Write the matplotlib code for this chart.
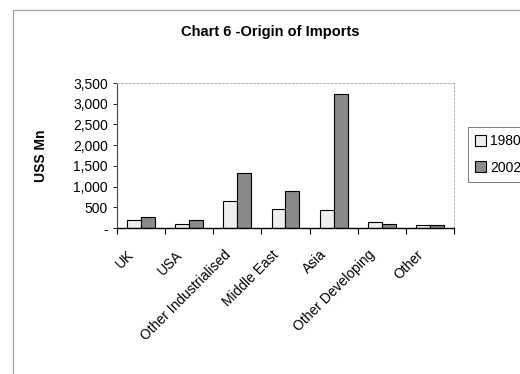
import matplotlib.pyplot as plt
import matplotlib.transforms as mtransforms
import numpy as np
from matplotlib.patches import Rectangle
from matplotlib.ticker import FuncFormatter

plt.rcParams['font.family'] = ['Liberation Sans', 'DejaVu Sans']

regions = ["UK", "USA", "Other Industrialised", "Middle East", "Asia",
           "Other Developing", "Other"]
imports_1980 = [190, 95, 650, 470, 440, 150, 70]
imports_2002 = [265, 190, 1340, 890, 3240, 110, 70]

fig = plt.figure(figsize=(5.2, 3.74), dpi=100)
ax = fig.add_axes([0.225, 0.390, 0.648, 0.388])

# outer chart frame (Excel style)
fig.patches.append(Rectangle((0.025, -0.02), 1.0, 0.993, transform=fig.transFigure,
                             fill=False, edgecolor="#9a9a9a", linewidth=0.8))

x = np.arange(len(regions))
w = 0.29
ax.bar(x - w / 2, imports_1980, w, color="#eeeeee", edgecolor="black",
       linewidth=0.8, label="1980")
ax.bar(x + w / 2, imports_2002, w, color="#8a8a8a", edgecolor="black",
       linewidth=0.8, label="2002")

ax.set_xlim(-0.5, len(regions) - 0.5)
ax.set_ylim(0, 3500)
ax.set_yticks(range(0, 3501, 500))
ax.yaxis.set_major_formatter(FuncFormatter(
    lambda v, p: "-" if v == 0 else f"{int(v):,}"))
ax.tick_params(axis="y", labelsize=10, length=3, width=0.6)

# category labels between boundary ticks
ax.set_xticks(np.arange(-0.5, len(regions), 1.0))
ax.set_xticklabels([])
ax.set_xticks(x, minor=True)
ax.set_xticklabels(regions, minor=True, rotation=45, ha="right",
                   rotation_mode="anchor", fontsize=10)
ax.tick_params(axis="x", which="minor", length=0, pad=14)
ax.tick_params(axis="x", which="major", length=4, width=0.8)
shift = mtransforms.ScaledTranslation(-10 / 72, 0, fig.dpi_scale_trans)
for lbl in ax.get_xticklabels(minor=True):
    lbl.set_transform(lbl.get_transform() + shift)

for s in ["top", "right"]:
    ax.spines[s].set_color("#b5b5b5")
    ax.spines[s].set_linestyle((0, (2, 2)))
    ax.spines[s].set_linewidth(0.7)
ax.spines["left"].set_color("#444444")
ax.spines["bottom"].set_linewidth(1.0)

ax.set_ylabel("USS Mn", fontsize=10, fontweight="bold", labelpad=18)
fig.text(0.52, 0.915, "Chart 6 -Origin of Imports", ha="center", va="center",
         fontsize=10.5, fontweight="bold")

leg = fig.legend(loc="upper left", bbox_to_anchor=(0.9, 0.66), fontsize=10,
                 frameon=True, fancybox=False, edgecolor="#555555",
                 borderaxespad=0, handlelength=0.8, handleheight=0.8,
                 handletextpad=0.3, borderpad=0.5, labelspacing=0.9)
leg.get_frame().set_linewidth(0.7)

plt.savefig("out.png", dpi=100)
